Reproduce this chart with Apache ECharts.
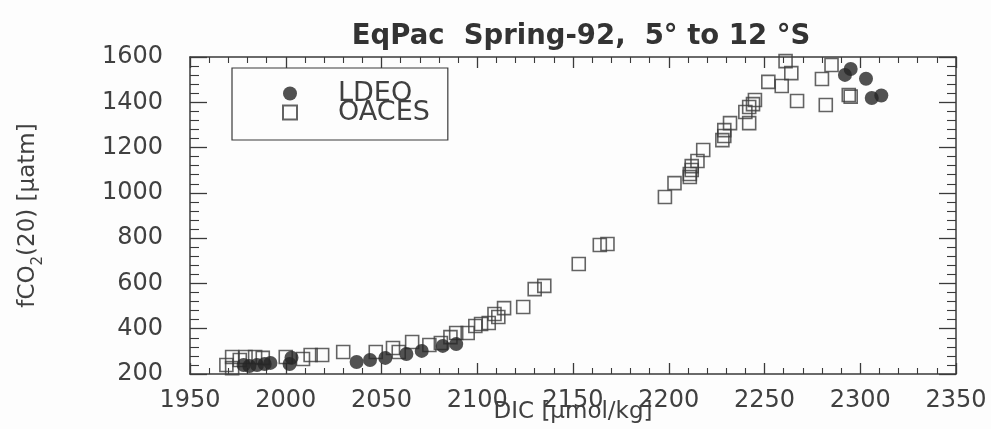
<!DOCTYPE html>
<html>
<head>
<meta charset="utf-8">
<script src="https://cdn.jsdelivr.net/npm/echarts@6/dist/echarts.min.js"></script>
<style>
html,body{margin:0;padding:0;background:#fdfdfd;}
#chart{width:991px;height:429px;}
</style>
</head>
<body>
<div id="chart"></div>
<script>
var titleText = 'EqPac  Spring-92,  5\u00b0 to 12 \u00b0S';
var xTicks = [1950, 2000, 2050, 2100, 2150, 2200, 2250, 2300, 2350];
var yTicks = [200, 400, 600, 800, 1000, 1200, 1400, 1600];
var seriesNames = ['LDEO', 'OACES'];

var ldeo = [
  [1978,240],[1981,235],[1985,240],[1989,244],[1992,249],[2002,244],[2003,272],
  [2037,253],[2044,262],[2052,271],[2063,288],[2071,302],[2082,324],[2089,332],
  [2292,1521],[2295,1547],[2303,1504],[2306,1419],[2311,1430]
];
var oaces = [
  [1969,240],[1972,275],[1972,226],[1976,262],[1979,275],[1984,275],[1988,271],
  [2000,275],[2009,266],[2013,284],[2019,284],[2030,297],[2047,297],[2056,315],
  [2059,297],[2066,341],[2075,328],[2081,337],[2086,363],[2089,381],[2095,381],
  [2099,412],[2102,421],[2106,425],[2109,465],[2111,452],[2114,491],[2124,496],
  [2130,575],[2135,589],[2153,686],[2164,770],[2168,774],[2198,982],[2203,1043],
  [2211,1070],[2211,1083],[2212,1101],[2212,1118],[2215,1141],[2218,1189],
  [2228,1233],[2229,1251],[2229,1277],[2232,1308],[2242,1308],[2240,1357],
  [2242,1379],[2244,1392],[2245,1410],[2252,1490],[2259,1472],[2264,1529],
  [2261,1582],[2267,1406],[2280,1503],[2285,1565],[2282,1388],[2294,1432],[2295,1425]
];

var axisColor = '#3a3a3a';
var textColor = '#404040';
var font = '"DejaVu Sans", Verdana, sans-serif';

function plain(v) { return String(v); }

var chart = echarts.init(document.getElementById('chart'), null, {renderer: 'canvas'});
chart.setOption({
  backgroundColor: '#fdfdfd',
  animation: false,
  title: {
    text: titleText,
    left: 576, top: 18, textAlign: 'center',
    textStyle: {fontFamily: font, fontSize: 27.5, fontWeight: 'bold', color: '#333333'}
  },
  legend: {
    data: seriesNames,
    orient: 'vertical',
    left: 232, top: 68,
    padding: [12, 18, 14, 50],
    itemGap: -8,
    itemWidth: 14, itemHeight: 14,
    borderColor: axisColor, borderWidth: 1.2, borderRadius: 0,
    textStyle: {fontFamily: font, fontSize: 27, color: textColor, padding: [0, 0, 0, 36]}
  },
  grid: {left: 190, right: 35, top: 57, bottom: 55, containLabel: false, outerBoundsMode: 'none'},
  xAxis: [{
    type: 'value', min: xTicks[0], max: xTicks[xTicks.length - 1], interval: 50,
    position: 'bottom',
    name: 'DIC [\u00b5mol/kg]', nameLocation: 'middle', nameGap: 27, nameMoveOverlap: false,
    nameTextStyle: {fontFamily: font, fontSize: 23, color: textColor},
    axisLine: {show: true, lineStyle: {color: axisColor, width: 1.5}},
    axisTick: {show: true, inside: true, length: 11, lineStyle: {color: axisColor, width: 1.3}},
    minorTick: {show: true, splitNumber: 5, length: 6, lineStyle: {color: axisColor, width: 1.1}},
    axisLabel: {show: true, margin: 15, fontFamily: font, fontSize: 24, color: textColor, formatter: plain},
    splitLine: {show: false}
  }, {
    type: 'value', min: xTicks[0], max: xTicks[xTicks.length - 1], interval: 50,
    position: 'top',
    axisLine: {show: true, lineStyle: {color: axisColor, width: 1.5}},
    axisTick: {show: true, inside: true, length: 11, lineStyle: {color: axisColor, width: 1.3}},
    minorTick: {show: true, splitNumber: 5, length: 6, lineStyle: {color: axisColor, width: 1.1}},
    axisLabel: {show: false},
    splitLine: {show: false}
  }],
  yAxis: [{
    type: 'value', min: yTicks[0], max: yTicks[yTicks.length - 1], interval: 200,
    position: 'left',
    name: '{a|fCO}{s|2}{a|(20) [\u00b5atm]}', nameLocation: 'middle', nameGap: 150, nameMoveOverlap: false,
    nameTextStyle: {
      fontFamily: font, fontSize: 23, color: textColor,
      rich: {
        a: {fontFamily: font, fontSize: 23, color: textColor, lineHeight: 28, verticalAlign: 'bottom'},
        s: {fontFamily: font, fontSize: 15, color: textColor, lineHeight: 28, verticalAlign: 'bottom', padding: [0, 0, -6, 0]}
      }
    },
    axisLine: {show: true, lineStyle: {color: axisColor, width: 1.5}},
    axisTick: {show: true, inside: true, length: 17, lineStyle: {color: axisColor, width: 1.3}},
    minorTick: {show: true, splitNumber: 5, length: 9, lineStyle: {color: axisColor, width: 1.1}},
    axisLabel: {show: true, margin: 27, fontFamily: font, fontSize: 24, color: textColor, formatter: plain},
    splitLine: {show: false}
  }, {
    type: 'value', min: yTicks[0], max: yTicks[yTicks.length - 1], interval: 200,
    position: 'right',
    axisLine: {show: true, lineStyle: {color: axisColor, width: 1.5}},
    axisTick: {show: true, inside: true, length: 17, lineStyle: {color: axisColor, width: 1.3}},
    minorTick: {show: true, splitNumber: 5, length: 9, lineStyle: {color: axisColor, width: 1.1}},
    axisLabel: {show: false},
    splitLine: {show: false}
  }],
  series: [{
    name: 'OACES', type: 'scatter', xAxisIndex: 0, yAxisIndex: 0,
    symbol: 'rect', symbolSize: 13,
    itemStyle: {color: 'rgba(0,0,0,0)', borderColor: '#3c3c3c', borderWidth: 1.6},
    data: oaces
  }, {
    name: 'LDEO', type: 'scatter', xAxisIndex: 0, yAxisIndex: 0,
    symbol: 'circle', symbolSize: 14,
    itemStyle: {color: '#262626', borderWidth: 0},
    data: ldeo
  }]
});
</script>
</body>
</html>
